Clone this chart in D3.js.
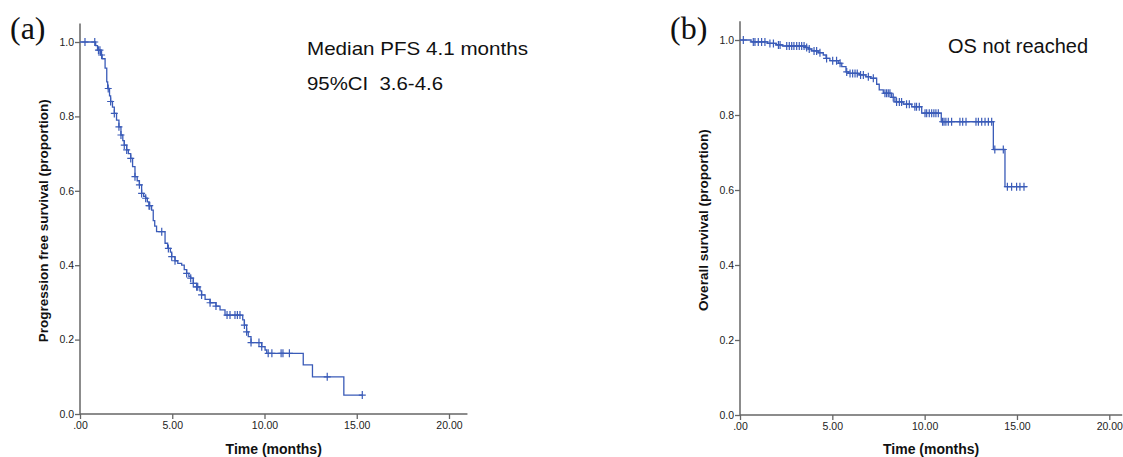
<!DOCTYPE html>
<html>
<head>
<meta charset="utf-8">
<script src="https://d3js.org/d3.v7.min.js"></script>
<style>
  body { margin: 0; background: #fff; }
  .tick text { font-family: Arial, "Liberation Sans", sans-serif; font-size: 10.5px; fill: #222; }
  .tick line { stroke: #666; stroke-width: 1.3; }
  .axis-title { font-family: Arial, "Liberation Sans", sans-serif; font-weight: bold; fill: #111; }
  .note { font-family: Arial, "Liberation Sans", sans-serif; fill: #111; white-space: pre; }
  .panel-label { font-family: "Liberation Serif", "Times New Roman", serif; font-size: 32px; fill: #111; }
</style>
</head>
<body>
<div id="chart"></div>
<script>
// ---- data ----
const xTickValues = [0, 5, 10, 15, 20];
const xTickLabels = [".00", "5.00", "10.00", "15.00", "20.00"];
const yTickValues = [0, 0.2, 0.4, 0.6, 0.8, 1.0];

// (a) progression free survival
const pfsEventTimes = [0.85, 0.95, 1.12, 1.2, 1.36, 1.45, 1.5, 1.6, 1.66, 1.76, 1.86, 1.98, 2.11, 2.22, 2.32, 2.4, 2.53, 2.62, 2.75, 2.85,
  2.98, 3.1, 3.22, 3.34, 3.45, 3.56, 3.65, 3.74, 3.88, 3.97, 4.05, 4.15, 4.61, 4.75, 4.9, 4.97, 5.15, 5.3, 5.51, 5.65,
  5.78, 5.9, 6.0, 6.14, 6.32, 6.5, 6.59, 6.78, 7.05, 7.37, 7.59, 7.86, 8.82, 8.91, 9.03, 9.12, 9.27, 9.85, 10.03, 10.12,
  12.1, 12.6, 14.3];
const pfsSurvival = [0.99, 0.978, 0.965, 0.955, 0.93, 0.893, 0.875, 0.855, 0.84, 0.825, 0.808, 0.79, 0.772, 0.75, 0.735, 0.723, 0.71, 0.70, 0.687, 0.665,
  0.638, 0.627, 0.616, 0.593, 0.585, 0.58, 0.57, 0.56, 0.548, 0.52, 0.505, 0.49, 0.459, 0.445, 0.435, 0.423, 0.412, 0.405, 0.40, 0.388,
  0.378, 0.37, 0.365, 0.351, 0.342, 0.331, 0.32, 0.308, 0.299, 0.29, 0.28, 0.266, 0.253, 0.239, 0.221, 0.208, 0.192, 0.181, 0.172, 0.163,
  0.132, 0.10, 0.051];
const pfsCensorTimes = [0.27, 0.8, 1.0, 1.08, 1.17, 1.53, 1.66, 1.86, 2.11, 2.22, 2.4, 2.53, 2.75, 2.98, 3.22, 3.34, 3.56, 3.74, 3.78,
  4.43, 4.79, 4.97, 5.15, 5.78, 6.0, 6.14, 6.32, 6.38, 6.59, 7.05, 7.37, 7.97, 8.13, 8.4, 8.53, 8.67, 8.91, 9.03, 9.27, 9.7,
  9.85, 10.2, 10.4, 10.9, 11.0, 11.35, 13.4, 15.3];
const pfsEnd = 15.3;

// (b) overall survival
const osEventTimes = [0.6, 1.5, 1.95, 2.3, 3.55, 3.7, 3.88, 4.24, 4.51, 4.66, 4.87, 5.32, 5.51, 5.74, 5.87, 6.46, 6.82, 7.08, 7.4, 7.54,
  7.76, 8.21, 8.39, 8.84, 9.3, 9.84, 10.9, 13.72, 14.35];
const osSurvival = [0.995, 0.991, 0.987, 0.984, 0.98, 0.976, 0.971, 0.966, 0.96, 0.951, 0.945, 0.938, 0.929, 0.915, 0.911, 0.907, 0.902, 0.898, 0.882, 0.867,
  0.858, 0.847, 0.835, 0.829, 0.822, 0.805, 0.782, 0.708, 0.609];
const osCensorTimes = [0.18, 0.72, 0.81, 0.99, 1.17, 1.35, 1.62, 1.81, 2.08, 2.17, 2.53, 2.67, 2.8, 2.92, 3.07, 3.21, 3.34, 3.47, 3.61, 3.75,
  4.01, 4.15, 4.33, 4.69, 5.02, 5.23, 5.42, 5.78, 5.96, 6.1, 6.23, 6.35, 6.53, 6.68, 6.95, 7.22, 7.85, 7.94, 8.03, 8.12,
  8.3, 8.48, 8.63, 8.75, 9.02, 9.17, 9.47, 9.56, 9.71, 10.02, 10.11, 10.25, 10.38, 10.5, 10.61, 10.74, 10.97, 11.05, 11.15, 11.28,
  11.46, 11.91, 12.06, 12.24, 12.78, 12.91, 13.09, 13.27, 13.45, 13.63, 13.8, 14.26, 14.48, 14.71, 14.98, 15.16, 15.38];
const osEnd = 15.55;

const lineColor = "#3a5bb8";

const svg = d3.select("#chart").append("svg")
  .attr("width", 1123).attr("height", 457);

function survivalAt(times, surv, t) {
  let s = 1;
  for (let i = 0; i < times.length; i++) { if (times[i] <= t) s = surv[i]; }
  return s;
}

function drawPanel(p) {
  const x = d3.scaleLinear().domain([0, 20]).range(p.xRange);
  const y = d3.scaleLinear().domain([0, 1]).range(p.yRange);
  const g = svg.append("g");

  // axis lines
  g.append("line").attr("x1", x(0)).attr("x2", x(p.xMaxLine)).attr("y1", y(0)).attr("y2", y(0))
    .attr("stroke", "#666").attr("stroke-width", 1.5);
  g.append("line").attr("x1", x(0)).attr("x2", x(0)).attr("y1", y(0)).attr("y2", y(1.05))
    .attr("stroke", "#666").attr("stroke-width", 1.5);

  const xAxis = g.append("g").attr("transform", `translate(0,${y(0)})`)
    .call(d3.axisBottom(x).tickValues(xTickValues).tickSize(5).tickPadding(3)
      .tickFormat((d, i) => xTickLabels[i]));
  xAxis.select(".domain").remove();

  const yAxis = g.append("g").attr("transform", `translate(${x(0)},0)`)
    .call(d3.axisLeft(y).tickValues(yTickValues).tickSize(5).tickPadding(1).tickFormat(d3.format(".1f")));
  yAxis.select(".domain").remove();

  // axis titles
  g.append("text").attr("class", "axis-title").attr("text-anchor", "middle")
    .style("font-size", "14px")
    .attr("x", (x(0) + x(p.xMaxLine)) / 2).attr("y", 454).text("Time (months)");
  g.append("text").attr("class", "axis-title").attr("text-anchor", "middle")
    .style("font-size", "13.5px")
    .attr("transform", `translate(${p.yTitleX},${(y(0) + y(1.05)) / 2 + 2}) rotate(-90)`)
    .text(p.yTitle);

  // step curve
  const pts = [[0, 1]];
  p.times.forEach((t, i) => pts.push([t, p.surv[i]]));
  pts.push([p.end, p.surv[p.surv.length - 1]]);
  g.append("path").datum(pts)
    .attr("d", d3.line().x(d => x(d[0])).y(d => y(d[1])).curve(d3.curveStepAfter))
    .attr("fill", "none").attr("stroke", lineColor).attr("stroke-width", 1.3);

  // censor marks
  g.selectAll(".cens").data(p.censor).enter().append("path")
    .attr("class", "cens")
    .attr("d", t => {
      const cx = x(t), cy = y(survivalAt(p.times, p.surv, t));
      return `M${cx - 3.5},${cy}H${cx + 3.5}M${cx},${cy - 4}V${cy + 4}`;
    })
    .attr("fill", "none").attr("stroke", lineColor).attr("stroke-width", 1.2);

  svg.append("text").attr("class", "panel-label").attr("x", p.labelX).attr("y", 39).text(p.label);
}

drawPanel({
  xRange: [80, 449], yRange: [414, 42], xMaxLine: 21,
  yTitle: "Progression free survival (proportion)", yTitleX: 48,
  times: pfsEventTimes, surv: pfsSurvival, censor: pfsCensorTimes, end: pfsEnd,
  label: "(a)", labelX: 10
});
drawPanel({
  xRange: [740, 1109.3], yRange: [415, 40], xMaxLine: 20.7,
  yTitle: "Overall survival (proportion)", yTitleX: 708,
  times: osEventTimes, surv: osSurvival, censor: osCensorTimes, end: osEnd,
  label: "(b)", labelX: 670
});

// annotations
svg.append("text").attr("class", "note").attr("x", 307).attr("y", 55)
  .style("font-size", "18.5px").attr("textLength", 221).attr("lengthAdjust", "spacingAndGlyphs")
  .text("Median PFS 4.1 months");
svg.append("text").attr("class", "note").attr("x", 307).attr("y", 90)
  .style("font-size", "18.5px").attr("textLength", 136).attr("lengthAdjust", "spacingAndGlyphs")
  .text("95%CI  3.6-4.6");
svg.append("text").attr("class", "note").attr("x", 948).attr("y", 53)
  .style("font-size", "20px").text("OS not reached");
</script>
</body>
</html>
